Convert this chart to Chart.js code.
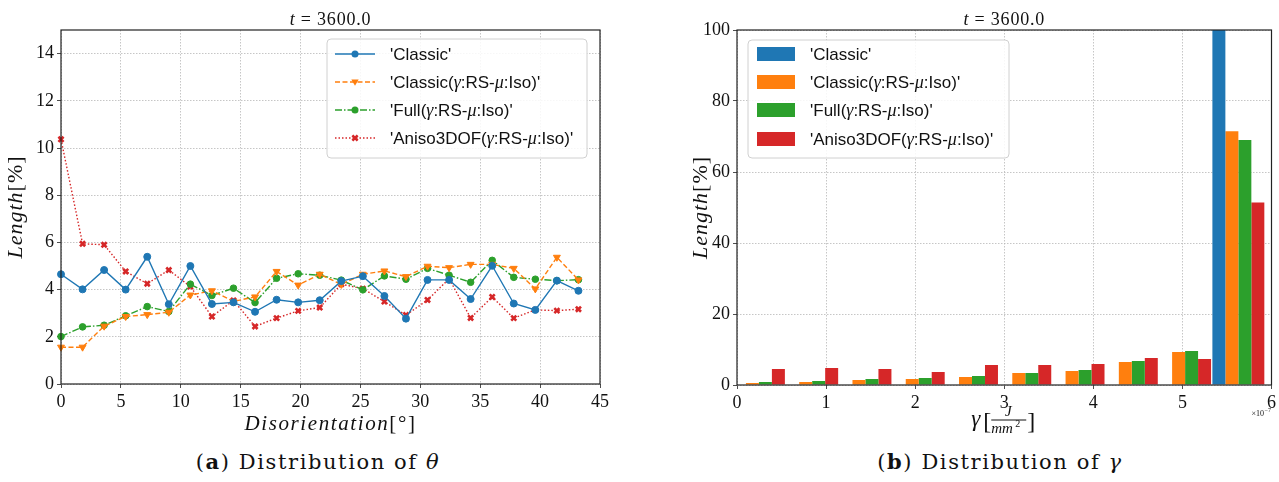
<!DOCTYPE html>
<html><head><meta charset="utf-8">
<script src="https://cdn.jsdelivr.net/npm/chart.js@4.4.0/dist/chart.umd.min.js"></script>
<style>
body{margin:0;width:1279px;height:482px;background:#fff;overflow:hidden;position:relative}
canvas{position:absolute;top:0}
#c1{left:0}
#c2{left:640px}
.cap{position:absolute;top:449px;font-family:"DejaVu Serif",serif;font-size:21px;letter-spacing:1.6px;color:#111;white-space:nowrap;transform:translateX(-50%)}
</style></head>
<body>
<canvas id="c1" width="640" height="440"></canvas>
<canvas id="c2" width="639" height="440"></canvas>
<div class="cap" style="left:318px">(<b>a</b>) Distribution of <i>θ</i></div>
<div class="cap" style="left:1000px">(<b>b</b>) Distribution of <i>γ</i></div>
<script>
// ---------- data ----------
const seriesLabels = ["'Classic'", "'Classic(γ:RS-μ:Iso)'", "'Full(γ:RS-μ:Iso)'", "'Aniso3DOF(γ:RS-μ:Iso)'"];
const disorientation = [0,1.8,3.6,5.4,7.2,9,10.8,12.6,14.4,16.2,18,19.8,21.6,23.4,25.2,27,28.8,30.6,32.4,34.2,36,37.8,39.6,41.4,43.2];
const classicLen   = [4.65,4.01,4.83,4.00,5.39,3.38,5.00,3.39,3.46,3.06,3.57,3.46,3.55,4.36,4.57,3.73,2.77,4.41,4.41,3.60,5.01,3.41,3.14,4.38,3.95];
const classicRSLen = [1.56,1.56,2.45,2.86,2.94,3.04,3.77,3.95,3.50,3.69,4.77,4.19,4.65,4.22,4.65,4.79,4.55,4.99,4.93,5.07,5.07,4.90,4.03,5.37,4.41];
const fullLen      = [2.01,2.42,2.49,2.89,3.28,3.07,4.23,3.75,4.06,3.45,4.48,4.67,4.61,4.40,3.99,4.58,4.44,4.90,4.61,4.31,5.24,4.52,4.44,4.38,4.42];
const anisoLen     = [10.37,5.94,5.90,4.77,4.25,4.83,4.13,2.86,3.54,2.44,2.79,3.10,3.24,4.23,4.04,3.49,2.92,3.56,4.46,2.80,3.69,2.79,3.14,3.11,3.17];

const gammaBins     = [0.246,0.844,1.442,2.040,2.638,3.236,3.834,4.432,5.030,5.628]; // x 1e-7
const classicBars   = [0,0,0,0,0,0,0,0,0,100];
const classicRSBars = [0.56,0.85,1.41,1.69,2.25,3.38,3.94,6.48,9.30,71.5];
const fullBars      = [0.85,1.13,1.69,1.97,2.54,3.38,4.23,6.76,9.58,69.0];
const anisoBars     = [4.5,4.8,4.5,3.66,5.63,5.63,5.92,7.6,7.32,51.4];

const xTicksA = [0,5,10,15,20,25,30,35,40,45];
const yTicksA = [0,2,4,6,8,10,12,14];
const xTicksB = [0,1,2,3,4,5,6];
const yTicksB = [0,20,40,60,80,100];

// ---------- styles ----------
const COL = ['#1f77b4','#ff7f0e','#2ca02c','#d62728'];
const SERIF = '"Liberation Serif", serif';
const SANS = '"Liberation Sans", sans-serif';
const TXT = '#111';

function pts(xs, ys){ return xs.map((x,i)=>({x:x, y:ys[i]})); }

function richWidth(ctx, parts){ let w=0; for(const p of parts){ctx.font=p.f; w+=ctx.measureText(p.t).width;} return w; }
function drawRich(ctx, parts, x, y, align){
  const w = richWidth(ctx, parts);
  let cx = align==='center' ? x - w/2 : x;
  ctx.textAlign='left'; ctx.textBaseline='alphabetic';
  for(const p of parts){ ctx.font=p.f; ctx.fillText(p.t, cx, y+(p.dy||0)); cx += ctx.measureText(p.t).width; }
}
function labelParts(s, size){
  const parts=[];
  for(const seg of s.split(/([γμ])/)){
    if(!seg) continue;
    if(seg==='γ'||seg==='μ') parts.push({t:seg, f:`italic ${size+1}px ${SERIF}`});
    else parts.push({t:seg, f:`${size}px ${SANS}`});
  }
  return parts;
}
function drawMarker(ctx, style, x, y, r, color){
  ctx.save(); ctx.setLineDash([]); ctx.fillStyle=color; ctx.strokeStyle=color; ctx.beginPath();
  if(style==='circle'){ ctx.arc(x,y,r,0,Math.PI*2); ctx.fill(); }
  else if(style==='tri'){ ctx.moveTo(x-r*1.05,y-r*0.7); ctx.lineTo(x+r*1.05,y-r*0.7); ctx.lineTo(x,y+r*1.1); ctx.closePath(); ctx.fill(); }
  else { ctx.lineWidth=2.6; const d=r*0.75; ctx.moveTo(x-d,y-d); ctx.lineTo(x+d,y+d); ctx.moveTo(x+d,y-d); ctx.lineTo(x-d,y+d); ctx.stroke(); }
  ctx.restore();
}
function frame(ctx, a){
  ctx.save(); ctx.setLineDash([]); ctx.strokeStyle='#222'; ctx.lineWidth=1.2;
  ctx.strokeRect(a.left, a.top, a.right-a.left, a.bottom-a.top); ctx.restore();
}
function legendBox(ctx, x, y, w, h){
  ctx.save(); ctx.setLineDash([]); ctx.beginPath(); ctx.roundRect(x,y,w,h,4);
  ctx.fillStyle='rgba(255,255,255,0.85)'; ctx.fill(); ctx.strokeStyle='#d0d0d0'; ctx.lineWidth=1; ctx.stroke(); ctx.restore();
}
function titleT(ctx, cx, y){
  ctx.save(); ctx.fillStyle=TXT; ctx.letterSpacing='0.8px';
  drawRich(ctx, [{t:'t', f:`italic 18px ${SERIF}`},{t:' = 3600.0', f:`18px ${SERIF}`}], cx, y, 'center');
  ctx.restore();
}
function yTitle(ctx, x, cy){
  ctx.save(); ctx.translate(x, cy); ctx.rotate(-Math.PI/2); ctx.fillStyle=TXT;
  ctx.letterSpacing='1px';
  drawRich(ctx, [{t:'Length', f:`italic 22px ${SERIF}`},{t:'[%]', f:`22px ${SERIF}`}], 0, 7, 'center');
  ctx.restore();
}

const markerStyles = ['circle','tri','circle','x'];
const dashes = [[], [5,2.5], [7,2,1.5,2], [1.5,2]];

function mkScale(min, max, step, ticks, extra){
  return Object.assign({
    type:'linear', min, max, offset:false,
    afterBuildTicks: s => { s.ticks = ticks.map(v=>({value:v})); },
    ticks:{ font:{family:SERIF, size:18}, color:TXT, padding:3, maxRotation:0, autoSkip:false, stepSize:step },
    grid:{ color:'#b8b8b8', lineWidth:0.8, drawTicks:true, tickLength:4, tickColor:'#222', tickBorderDash:[], offset:false },
    border:{ display:false, dash:[1.5,1.5] }
  }, extra||{});
}

// ---------- chart (a) ----------
const lineDatasets = [classicLen, classicRSLen, fullLen, anisoLen].map((vals,i)=>({
  label: seriesLabels[i],
  data: pts(disorientation, vals),
  borderColor: COL[i], backgroundColor: COL[i],
  borderWidth: 1.4, borderDash: dashes[i],
  pointStyle: ['circle','triangle','circle','crossRot'][i],
  pointRotation: i===1 ? 180 : 0,
  pointRadius: [3.5,4,3.3,3.6][i],
  pointBorderWidth: i===3 ? 2.6 : 1,
  pointBackgroundColor: COL[i], pointBorderColor: COL[i],
  tension: 0, clip: false
}));

const decoA = {
  id:'decoA',
  afterDraw(chart){
    const ctx=chart.ctx, a=chart.chartArea;
    frame(ctx, a);
    titleT(ctx, (a.left+a.right)/2, 25);
    yTitle(ctx, 15, (a.top+a.bottom)/2);
    ctx.save(); ctx.fillStyle=TXT; ctx.letterSpacing='1.6px';
    drawRich(ctx, [{t:'Disorientation', f:`italic 21px ${SERIF}`},{t:'[°]', f:`21px ${SERIF}`}], (a.left+a.right)/2, 430, 'center');
    ctx.restore();
    // legend
    legendBox(ctx, 327, 39, 260, 119);
    const ys=[54,82,110,138];
    chart.data.datasets.forEach((ds,i)=>{
      ctx.save(); ctx.strokeStyle=ds.borderColor; ctx.lineWidth=1.4; ctx.setLineDash(ds.borderDash);
      ctx.beginPath(); ctx.moveTo(335,ys[i]); ctx.lineTo(375,ys[i]); ctx.stroke(); ctx.restore();
      drawMarker(ctx, markerStyles[i], 355, ys[i], 3.5, ds.borderColor);
      ctx.fillStyle=TXT;
      drawRich(ctx, labelParts(ds.label,17), 390, ys[i]+6, 'left');
    });
  }
};

new Chart(document.getElementById('c1'), {
  type:'line',
  data:{ datasets: lineDatasets },
  options:{
    responsive:false, animation:false, events:[],
    layout:{ padding:{ left:0, top:30, right:40, bottom:0 } },
    plugins:{ legend:{display:false}, tooltip:{enabled:false}, title:{display:false} },
    scales:{
      x: mkScale(0,45,5,xTicksA,{ afterFit:s=>{ s.height=56; } }),
      y: mkScale(0,15,2,yTicksA,{ afterFit:s=>{ s.width=61; } })
    }
  },
  plugins:[decoA]
});

// ---------- chart (b) ----------
const barDatasets = [classicBars, classicRSBars, fullBars, anisoBars].map((vals,i)=>({
  label: seriesLabels[i],
  data: pts(gammaBins, vals),
  backgroundColor: COL[i], borderWidth:0,
  categoryPercentage: 0.975, barPercentage: 1.0
}));

const decoB = {
  id:'decoB',
  afterDraw(chart){
    const ctx=chart.ctx, a=chart.chartArea;
    frame(ctx, a);
    titleT(ctx, (a.left+a.right)/2, 25);
    yTitle(ctx, 60, (a.top+a.bottom)/2);
    // x title: gamma [ J / mm^2 ]
    const cx=(a.left+a.right)/2;
    ctx.save(); ctx.fillStyle=TXT; ctx.strokeStyle=TXT;
    const x0 = cx-33, by=428;
    ctx.font=`italic 23px ${SERIF}`; ctx.textAlign='left'; ctx.textBaseline='alphabetic';
    ctx.fillText('γ', x0, by-2);
    ctx.font=`24px ${SERIF}`; ctx.fillText('[', x0+12, by+1);
    ctx.font=`italic 15px ${SERIF}`; ctx.textAlign='center';
    ctx.fillText('J', x0+37, by-12);
    ctx.beginPath(); ctx.lineWidth=1; ctx.moveTo(x0+20, by-8); ctx.lineTo(x0+55, by-8); ctx.stroke();
    ctx.textAlign='left'; ctx.fillText('mm', x0+20, by+5);
    ctx.font=`10px ${SERIF}`; ctx.fillText('2', x0+44, by-1);
    ctx.font=`24px ${SERIF}`; ctx.fillText(']', x0+56, by+1);
    ctx.font=`8px ${SERIF}`; ctx.fillText('×10', a.right-20, 416);
    ctx.font=`6px ${SERIF}`; ctx.fillText('−7', a.right-7, 412);
    ctx.restore();
    // legend
    legendBox(ctx, 108, 40, 261, 118);
    const ys=[54,82,110,139];
    chart.data.datasets.forEach((ds,i)=>{
      ctx.fillStyle=ds.backgroundColor; ctx.fillRect(117, ys[i]-7, 38, 14);
      ctx.fillStyle=TXT;
      drawRich(ctx, labelParts(ds.label,17), 170, ys[i]+6, 'left');
    });
  }
};

new Chart(document.getElementById('c2'), {
  type:'bar',
  data:{ datasets: barDatasets },
  options:{
    responsive:false, animation:false, events:[],
    layout:{ padding:{ left:0, top:30, right:6, bottom:0 } },
    plugins:{ legend:{display:false}, tooltip:{enabled:false}, title:{display:false} },
    scales:{
      x: mkScale(0,6,1,xTicksB,{ afterFit:s=>{ s.height=55; } }),
      y: mkScale(0,100,20,yTicksB,{ afterFit:s=>{ s.width=97; } })
    }
  },
  plugins:[decoB]
});
</script>
</body></html>
